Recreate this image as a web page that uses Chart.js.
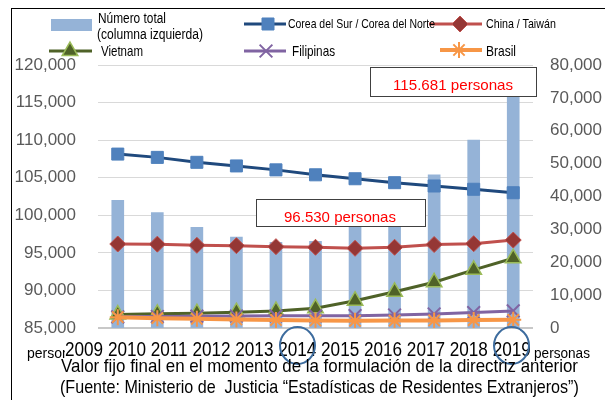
<!DOCTYPE html>
<html>
<head>
<meta charset="utf-8">
<script src="https://cdn.jsdelivr.net/npm/chart.js@4.4.0/dist/chart.umd.min.js"></script>
<style>
  html, body { margin: 0; padding: 0; background: #fff; }
  #wrap { position: relative; width: 605px; height: 400px; overflow: hidden; font-family: "Liberation Sans", Arial, sans-serif; }
  #chart { position: absolute; left: 0; top: 0; }
  .t { position: absolute; white-space: pre; line-height: 1; transform-origin: 0 0; }
  .frame { position: absolute; left: 11px; top: 7.5px; width: 700px; height: 500px; border: 1.5px solid #000; }
  .note { position: absolute; background: #fff; border: 1.3px solid #404040; box-sizing: border-box; }
  .ring { position: absolute; border: 2px solid #3D6C9E; border-radius: 50%; box-sizing: border-box; }
</style>
</head>
<body>
<div id="wrap">
  <canvas id="chart" width="605" height="400"></canvas>
  <div class="frame"></div>
</div>
<script>
const years = ['2009', '2010', '2011', '2012', '2013', '2014', '2015', '2016', '2017', '2018', '2019'];
const total = [102000, 100350, 98400, 97100, 96400, 96530, 99500, 101000, 105400, 110000, 115681];
const korea = [52900, 51900, 50400, 49300, 48100, 46600, 45400, 44200, 43200, 42200, 41150];
const china = [25550, 25500, 25150, 25050, 24750, 24550, 24250, 24550, 25400, 25650, 26750];
const vietnam = [4100, 4300, 4500, 4800, 5200, 6000, 8300, 11000, 13900, 17700, 21200];
const filipinas = [3400, 3500, 3600, 3650, 3700, 3700, 3750, 3950, 4250, 4700, 5200];
const brasil = [3300, 3000, 2800, 2600, 2450, 2300, 2200, 2250, 2300, 2400, 2500];
const leftTicks = { min: 85000, max: 120000, step: 5000 };
const rightTicks = { min: 0, max: 80000, step: 10000 };

const wrap = document.getElementById('wrap');
const measureCtx = document.createElement('canvas').getContext('2d');

// text placed by baseline, squeezed to a given width like the original
function addText(str, x, base, size, width, color, bg) {
    const el = document.createElement('div');
    el.className = 't';
    el.textContent = str;
    el.style.fontSize = size + 'px';
    el.style.left = x + 'px';
    el.style.top = (base - 0.8465 * size) + 'px';
    el.style.color = color || '#000';
    if (bg) el.style.background = bg;
    if (width) {
        measureCtx.font = size + 'px "Liberation Sans"';
        const sx = width / measureCtx.measureText(str).width;
        el.style.transform = 'scaleX(' + sx.toFixed(3) + ')';
    }
    wrap.appendChild(el);
    return el;
}

function addBox(cls, x, y, w, h) {
    const el = document.createElement('div');
    el.className = cls;
    el.style.left = x + 'px';
    el.style.top = y + 'px';
    el.style.width = w + 'px';
    el.style.height = h + 'px';
    wrap.appendChild(el);
}

const lineSets = [
    { label: 'Corea del Sur / Corea del Norte', data: korea, borderColor: '#1F497D', borderWidth: 3,
      pointStyle: 'rect', pointRadius: 8.5, pointBackgroundColor: '#4F81BD', pointBorderColor: '#4F81BD', pointBorderWidth: 1, order: 4 },
    { label: 'China / Taiwán', data: china, borderColor: '#C0504D', borderWidth: 3,
      pointStyle: 'rectRot', pointRadius: 8, pointBackgroundColor: '#953735', pointBorderColor: '#C0504D', pointBorderWidth: 1, order: 3 },
    { label: 'Vietnam', data: vietnam, borderColor: '#4F6228', borderWidth: 3,
      pointStyle: 'triangle', pointRadius: 9, pointBackgroundColor: '#4F6228', pointBorderColor: '#9BBB59', pointBorderWidth: 1.5, order: 2 },
    { label: 'Filipinas', data: filipinas, borderColor: '#8064A2', borderWidth: 3,
      pointStyle: 'crossRot', pointRadius: 9, pointBackgroundColor: '#8064A2', pointBorderColor: '#8064A2', pointBorderWidth: 2, order: 1 },
    { label: 'Brasil', data: brasil, borderColor: '#F79646', borderWidth: 4,
      pointStyle: 'star', pointRadius: 8, pointBackgroundColor: '#F79646', pointBorderColor: '#F79646', pointBorderWidth: 2, order: 0 },
];

// where each legend symbol sits: [x1, x2, markerX, y]
const legendSpots = [[244, 286, 268, 24], [429, 482, 460, 24], [49, 92, 70, 51], [244, 286, 266, 51], [440, 482, 459, 50]];

const legendIcons = {
    id: 'legendIcons',
    afterDraw(chart) {
        const ctx = chart.ctx;
        ctx.save();
        ctx.fillStyle = '#95B3D7';
        ctx.fillRect(51, 19, 41, 12);
        lineSets.forEach((ds, i) => {
            const [x1, x2, mx, y] = legendSpots[i];
            ctx.strokeStyle = ds.borderColor;
            ctx.lineWidth = ds.borderWidth;
            ctx.beginPath();
            ctx.moveTo(x1, y);
            ctx.lineTo(x2, y);
            ctx.stroke();
            ctx.fillStyle = ds.pointBackgroundColor;
            ctx.strokeStyle = ds.pointBorderColor;
            ctx.lineWidth = ds.pointBorderWidth;
            Chart.helpers.drawPoint(ctx, { pointStyle: ds.pointStyle, radius: ds.pointRadius, rotation: 0, borderWidth: ds.pointBorderWidth }, mx, y);
        });
        ctx.restore();
    }
};

const tickFont = { family: '"Liberation Sans", Arial, sans-serif', size: 17 };

new Chart(document.getElementById('chart'), {
    type: 'bar',
    data: {
        labels: years,
        datasets: [
            { type: 'bar', label: 'Número total (columna izquierda)', data: total, backgroundColor: '#95B3D7', barThickness: 12, yAxisID: 'yL', order: 5 },
            ...lineSets.map(ds => Object.assign({ type: 'line', yAxisID: 'yR', tension: 0, fill: false }, ds)),
        ],
    },
    options: {
        responsive: false,
        animation: false,
        devicePixelRatio: 1,
        layout: { padding: { top: 65, bottom: 72, left: 0, right: 0 } },
        plugins: { legend: { display: false }, tooltip: { enabled: false } },
        scales: {
            x: {
                offset: true,
                grid: { display: false },
                border: { display: false },
                ticks: { display: false },
                afterFit: s => { s.height = 0; },
            },
            yL: {
                position: 'left',
                min: leftTicks.min,
                max: leftTicks.max,
                ticks: { stepSize: leftTicks.step, font: tickFont, color: '#595959', padding: 22,
                    callback: v => v.toLocaleString('en-US') },
                grid: { color: c => c.index === 0 ? '#C8C8C8' : '#D9D9D9', lineWidth: c => c.index === 0 ? 2 : 1, drawTicks: false },
                border: { display: false },
                afterFit: s => { s.width = 98; },
            },
            yR: {
                position: 'right',
                min: rightTicks.min,
                max: rightTicks.max,
                ticks: { stepSize: rightTicks.step, font: tickFont, color: '#595959', padding: 17,
                    callback: v => v.toLocaleString('en-US') },
                grid: { display: false, drawTicks: false },
                border: { display: false },
                afterFit: s => { s.width = 72; },
            },
        },
    },
    plugins: [legendIcons],
});

// legend texts
addText('Número total', 97.5, 23, 15.5, 68);
addText('(columna izquierda)', 96.5, 39.5, 15.5, 106);
addText('Corea del Sur / Corea del Norte', 287.5, 28.5, 13, 147);
addText('China / Taiwán', 486, 28.5, 13, 70);
addText('Vietnam', 101, 55.5, 15, 42);
addText('Filipinas', 292, 55.5, 15, 43);
addText('Brasil', 486, 55.5, 15, 30);

// callouts
addBox('note', 256, 199, 170, 28);
addText('96.530 personas', 284, 222, 15, 112, '#FF0000');
addBox('note', 370, 67, 167, 30);
addText('115.681 personas', 393, 90, 15, 120, '#FF0000');

// year row and units
addText('personas', 27, 358, 14);
addText(years.join(' '), 64.5, 356, 20, 466, '#000', '#fff');
addText('personas', 534, 358, 14, 56);
addBox('ring', 279, 326, 37, 39);
addBox('ring', 493, 326, 37, 39);

// footnote
addText('Valor fijo final en el momento de la formulación de la directriz anterior', 61, 373, 18.5, 517);
addText('(Fuente: Ministerio de  Justicia “Estadísticas de Residentes Extranjeros”)', 60, 393.5, 18.5, 519);
</script>
</body>
</html>
